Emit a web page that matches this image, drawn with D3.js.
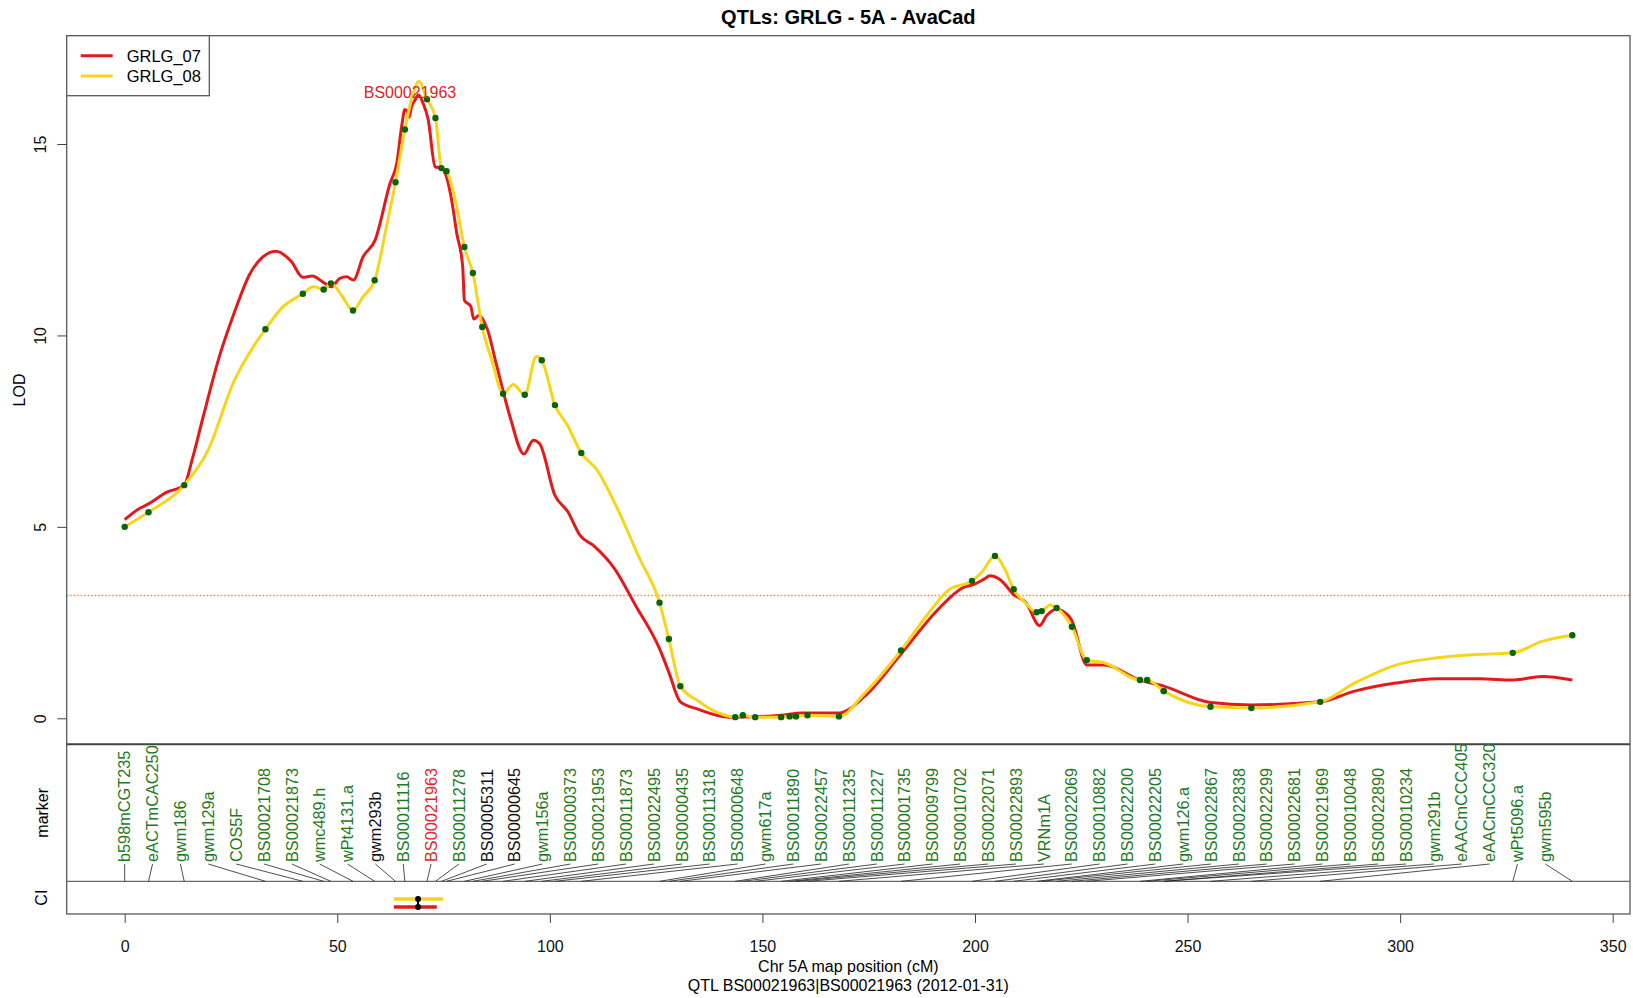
<!DOCTYPE html>
<html>
<head>
<meta charset="utf-8">
<script src="https://cdn.jsdelivr.net/npm/d3@7"></script>
<style>
  body { margin: 0; background: #fff; }
  #graphicContainer { width: 1633px; height: 998px; }
  text { font-family: "Liberation Sans", Arial, Helvetica, sans-serif; }
</style>
</head>
<body>
<div id="graphicContainer"></div>
<script>

// chart values

var title = "QTLs: GRLG - 5A - AvaCad";
var xLabel = "Chr 5A map position (cM)";
var subLabel = "QTL BS00021963|BS00021963 (2012-01-31)";
var seriesNames = ["GRLG_07", "GRLG_08"];
var xTicks = [0, 50, 100, 150, 200, 250, 300, 350];
var yTicks = [0, 5, 10, 15];
var threshold = 3.21;

var markerNames = ["b598mCGT235", "eACTmCAC250", "gwm186", "gwm129a", "COS5F", "BS00021708",
	"BS00021873", "wmc489.h", "wPt4131.a", "gwm293b", "BS00011116", "BS00021963", "BS00011278",
	"BS00005311", "BS00000645", "gwm156a", "BS00000373", "BS00021953", "BS00011873", "BS00022495",
	"BS00000435", "BS00011318", "BS00000648", "gwm617a", "BS00011890", "BS00022457", "BS00011235",
	"BS00011227", "BS00001735", "BS00009799", "BS00010702", "BS00022071", "BS00022893", "VRNm1A",
	"BS00022069", "BS00010882", "BS00022200", "BS00022205", "gwm126.a", "BS00022867", "BS00022838",
	"BS00022299", "BS00022681", "BS00021969", "BS00010048", "BS00022890", "BS00010234", "gwm291b",
	"eAACmCCC405", "eAACmCCC320", "wPt5096.a", "gwm595b"];

var markerPos = [0, 5.6, 14, 33.1, 41.9, 46.8, 48.5, 53.7, 58.8, 63.7, 65.9, 71.1, 73.1,
	74.5, 75.7, 79.9, 81.9, 84.1, 89, 94.1, 98.1, 101.2, 107.4, 125.8, 128, 130.7, 143.6,
	145.4, 148.3, 154.4, 156.4, 157.9, 160.6, 168, 182.6, 199.3, 204.7, 209.1, 214.5, 215.7, 219.2,
	222.8, 226.3, 238.8, 240.5, 244.4, 244.4, 255.4, 265, 281.2, 326.5, 340.5];

// GRLG_08 LOD at each marker (green dots)
var markerLod = [5.0, 5.38, 6.09, 10.16, 11.09, 11.2, 11.36, 10.65, 11.44, 14.0, 15.38, 16.17, 15.68,
	14.37, 14.29, 12.31, 11.63, 10.22, 8.48, 8.45, 9.35, 8.18, 6.93, 3.02, 2.07, 0.84, 0.03,
	0.08, 0.03, 0.03, 0.05, 0.05, 0.08, 0.05, 1.77, 3.59, 4.24, 3.37, 2.77, 2.8, 2.88,
	2.39, 1.52, 1.0, 1.0, 0.71, 0.71, 0.3, 0.27, 0.43, 1.71, 2.17];

var blackMarkers = ["gwm293b", "BS00005311", "BS00000645"];
var peakMarker = "BS00021963";
var peakLabel = {pos: 67.1, lod: 16.35};

var grlg07 = [[0,5.19],[3,5.45],[5.6,5.6],[9.8,5.9],[14,6.09],[15.9,6.77],[18.4,7.85],[22,9.35],
	[25.7,10.57],[29.4,11.6],[32.5,12.05],[35.5,12.2],[39.2,11.93],[41.9,11.52],[44.1,11.55],
	[46.8,11.38],[48.6,11.27],[50.6,11.49],[52.2,11.53],[53.8,11.45],[56.1,12.06],[58.9,12.49],
	[62.4,13.97],[64,14.5],[65.2,15.5],[65.9,15.9],[66.5,15.85],[66.9,15.7],[67.4,15.95],
	[68.3,16.15],[69.1,16.28],[70.2,16.06],[71.4,15.63],[73,14.41],[74.6,14.36],[75.7,14.14],
	[76.9,13.54],[78.1,12.67],[79.5,11.8],[79.9,10.92],[81.4,10.76],[82.1,10.43],[83.3,10.52],
	[85.3,10.16],[87.5,9.21],[90.7,7.85],[93.9,6.9],[96.1,7.26],[97.6,7.17],[101.2,5.82],
	[104.2,5.4],[107.1,4.78],[110.3,4.51],[115.2,3.91],[120.1,2.96],[125.8,1.82],[128,1.2],
	[130.7,0.43],[134.8,0.24],[142.2,0.03],[148,0.04],[154.4,0.08],[159.3,0.14],[168,0.14],
	[174,0.57],[182.6,1.68],[191.2,2.83],[197.3,3.42],[199.8,3.5],[202.2,3.64],[203.5,3.72],
	[206,3.61],[209.1,3.23],[212,3.02],[215.2,2.42],[216.9,2.69],[219.2,2.85],[221.9,2.69],
	[222.8,2.55],[226.3,1.39],[230.4,1.39],[238.8,1.0],[244.4,0.84],[255.4,0.41],[265,0.35],
	[281.2,0.43],[289.3,0.71],[299,0.92],[308.9,1.03],[318.7,1.03],[326.5,1.0],[333.4,1.09],
	[340.5,1.0]];

var grlg08 = [[0,5.0],[5.6,5.38],[14,6.09],[19.6,7.0],[25.7,8.8],[30.6,9.76],[33.1,10.16],
	[36.8,10.7],[41.9,11.09],[44.4,11.27],[46.8,11.2],[48.5,11.36],[51,11.05],[53.7,10.65],
	[56,11.0],[58.8,11.44],[61.5,12.8],[63.7,14.0],[65.9,15.38],[67.8,16.3],[69.2,16.63],
	[71.1,16.17],[73.1,15.68],[74.5,14.37],[75.7,14.29],[78,13.4],[79.9,12.31],[81.9,11.63],
	[84.1,10.22],[86.5,9.3],[89,8.48],[91.4,8.72],[94.1,8.45],[96.8,9.45],[98.1,9.35],
	[101.2,8.18],[104.2,7.64],[107.4,6.93],[111,6.5],[116,5.45],[121,4.2],[125.8,3.02],
	[128,2.07],[130.7,0.84],[134.8,0.46],[139.7,0.14],[143.6,0.03],[145.4,0.08],[148.3,0.03],
	[154.4,0.03],[156.4,0.05],[157.9,0.05],[160.6,0.08],[168,0.05],[174,0.65],[182.6,1.77],
	[188.7,2.69],[193.7,3.34],[199.3,3.59],[201.5,3.8],[204.7,4.24],[207,3.9],[209.1,3.37],
	[212,3.0],[214.5,2.77],[215.7,2.8],[217.7,2.96],[219.2,2.88],[222.8,2.39],[226.3,1.52],
	[230.4,1.45],[238.8,1.0],[240.5,1.0],[244.4,0.71],[255.4,0.3],[265,0.27],[281.2,0.43],
	[289.3,0.92],[299,1.39],[308.9,1.58],[317,1.66],[326.5,1.71],[333.4,2.01],[340.5,2.17]];

// confidence intervals: [low, peak, high]
var ci07 = [63.3, 69, 73.4];
var ci08 = [63.3, 69, 74.9];

var colours = {"GRLG_07": "#e31a1c", "GRLG_08": "#f7d51d"};

function draw_chart() {

	var width = 1633, height = 998;
	// panel edges
	var box = {left: 66.7, right: 1630, top: 35.7, lodBottom: 744.3, markerBottom: 881.3, ciBottom: 914};

	d3.select("#graphicContainer svg").remove();

	var svg = d3.select("#graphicContainer").append("svg")
		.attr("width", width)
		.attr("height", height);

	var x = d3.scaleLinear()
		.domain([0, 350])
		.range([124.7, 1612.7]);

	var y = d3.scaleLinear()
		.domain([0, 15])
		.range([718.3, 144]);

	// title
	svg.append("text")
		.attr("x", (box.left + box.right) / 2)
		.attr("y", 17)
		.attr("dy", "0.35em")
		.attr("text-anchor", "middle")
		.attr("font-weight", "bold")
		.attr("font-size", 20)
		.text(title);

	// threshold
	svg.append("line")
		.attr("x1", box.left).attr("x2", box.right)
		.attr("y1", y(threshold)).attr("y2", y(threshold))
		.attr("stroke", "#ff8c1a")
		.attr("stroke-width", 1.5)
		.attr("stroke-dasharray", "1.5,2");

	// LOD curves
	var line = d3.line()
		.x(d => x(d[0]))
		.y(d => y(d[1]))
		.curve(d3.curveMonotoneX);

	svg.append("path")
		.datum(grlg07)
		.attr("d", line)
		.attr("fill", "none")
		.attr("stroke", colours["GRLG_07"])
		.attr("stroke-width", 3);

	svg.append("path")
		.datum(grlg08)
		.attr("d", line)
		.attr("fill", "none")
		.attr("stroke", colours["GRLG_08"])
		.attr("stroke-width", 3);

	// marker dots
	svg.append("g")
		.selectAll("circle")
		.data(markerPos)
		.enter()
		.append("circle")
		.attr("cx", d => x(d))
		.attr("cy", (d, i) => y(markerLod[i]))
		.attr("r", 3.2)
		.attr("fill", "#0a640a");

	// peak label
	svg.append("text")
		.attr("x", x(peakLabel.pos))
		.attr("y", y(peakLabel.lod))
		.attr("dy", "0.35em")
		.attr("text-anchor", "middle")
		.attr("font-size", 16)
		.attr("fill", "#dc2626")
		.text(peakMarker);

	// panel boxes
	svg.append("rect")
		.attr("x", box.left).attr("y", box.top)
		.attr("width", box.right - box.left)
		.attr("height", box.ciBottom - box.top)
		.attr("fill", "none")
		.attr("stroke", "#5a5a5a")
		.attr("stroke-width", 1.3);

	svg.append("line")
		.attr("x1", box.left).attr("x2", box.right)
		.attr("y1", box.lodBottom).attr("y2", box.lodBottom)
		.attr("stroke", "#444")
		.attr("stroke-width", 2);

	svg.append("line")
		.attr("x1", box.left).attr("x2", box.right)
		.attr("y1", box.markerBottom).attr("y2", box.markerBottom)
		.attr("stroke", "#6a6a6a")
		.attr("stroke-width", 1.2);

	// marker labels spread evenly, joined to map positions
	var labelX = d3.scaleLinear()
		.domain([0, markerNames.length - 1])
		.range([x(markerPos[0]), x(markerPos[markerPos.length - 1]) - 27]);

	var labelBase = 862;

	svg.append("g")
		.selectAll("line")
		.data(markerNames)
		.enter()
		.append("line")
		.attr("x1", (d, i) => labelX(i))
		.attr("y1", labelBase + 2)
		.attr("x2", (d, i) => x(markerPos[i]))
		.attr("y2", box.markerBottom)
		.attr("stroke", "#222")
		.attr("stroke-width", 0.8);

	svg.append("g")
		.selectAll("text")
		.data(markerNames)
		.enter()
		.append("text")
		.attr("transform", (d, i) => `translate(${labelX(i)},${labelBase}) rotate(-90)`)
		.attr("dy", "0.35em")
		.attr("font-size", 16.3)
		.attr("fill", d => d == peakMarker ? "#e3262a" : (blackMarkers.indexOf(d) >= 0 ? "#111" : "#1f7a1f"))
		.text(d => d);

	// CI bars
	var ciRows = [{ci: ci08, key: "GRLG_08", yy: 899}, {ci: ci07, key: "GRLG_07", yy: 907}];

	svg.append("g")
		.selectAll("line")
		.data(ciRows)
		.enter()
		.append("line")
		.attr("x1", d => x(d.ci[0]))
		.attr("x2", d => x(d.ci[2]))
		.attr("y1", d => d.yy)
		.attr("y2", d => d.yy)
		.attr("stroke", d => colours[d.key])
		.attr("stroke-width", 3.5);

	svg.append("line")
		.attr("x1", x(ci08[1])).attr("x2", x(ci07[1]))
		.attr("y1", 899).attr("y2", 907)
		.attr("stroke", "#000")
		.attr("stroke-width", 2);

	svg.append("g")
		.selectAll("circle")
		.data(ciRows)
		.enter()
		.append("circle")
		.attr("cx", d => x(d.ci[1]))
		.attr("cy", d => d.yy)
		.attr("r", 3)
		.attr("fill", "#000");

	// legend
	svg.append("rect")
		.attr("x", box.left).attr("y", box.top)
		.attr("width", 209.3 - box.left)
		.attr("height", 95.7 - box.top)
		.attr("fill", "#fff")
		.attr("stroke", "#5a5a5a")
		.attr("stroke-width", 1.3);

	var leg = svg.append("g")
		.selectAll("g")
		.data(seriesNames)
		.enter()
		.append("g")
		.attr("transform", (d, i) => `translate(0,${55.7 + i * 20.3})`);

	leg.append("line")
		.attr("x1", 80.7).attr("x2", 112.7)
		.attr("stroke", d => colours[d])
		.attr("stroke-width", 3);

	leg.append("text")
		.attr("x", 126.7)
		.attr("dy", "0.36em")
		.attr("font-size", 16.5)
		.text(d => d);

	// x axis
	var xAxis = svg.append("g")
		.attr("transform", `translate(0,${box.ciBottom})`)
		.call(d3.axisBottom(x).tickValues(xTicks).tickSize(9).tickPadding(18).tickSizeOuter(0));
	xAxis.select(".domain").remove();
	xAxis.selectAll("line").attr("stroke", "#444");
	xAxis.selectAll("text").attr("font-size", 16).attr("fill", "#111")
		.attr("font-family", "\"Liberation Sans\", Arial, sans-serif");

	// y axis with rotated labels
	var yAxis = svg.append("g")
		.attr("transform", `translate(${box.left},0)`)
		.call(d3.axisLeft(y).tickValues(yTicks).tickSize(9.4).tickFormat(d3.format("d")));
	yAxis.select(".domain").remove();
	yAxis.selectAll("line").attr("stroke", "#444");
	yAxis.selectAll("text")
		.attr("x", null).attr("dy", null)
		.attr("text-anchor", "middle")
		.attr("dominant-baseline", "central")
		.attr("transform", "translate(-26,0) rotate(-90)")
		.attr("font-size", 16).attr("fill", "#111")
		.attr("font-family", "\"Liberation Sans\", Arial, sans-serif");

	// axis titles
	svg.append("text")
		.attr("x", (box.left + box.right) / 2)
		.attr("y", 966.5)
		.attr("dy", "0.35em")
		.attr("text-anchor", "middle")
		.attr("font-size", 16)
		.text(xLabel);

	svg.append("text")
		.attr("x", (box.left + box.right) / 2)
		.attr("y", 985)
		.attr("dy", "0.35em")
		.attr("text-anchor", "middle")
		.attr("font-size", 16)
		.text(subLabel);

	var sideLabels = [
		{t: "LOD", x: 19, y: (box.top + box.lodBottom) / 2},
		{t: "marker", x: 42, y: (box.lodBottom + box.markerBottom) / 2},
		{t: "CI", x: 41, y: (box.markerBottom + box.ciBottom) / 2}
	];

	svg.append("g")
		.selectAll("text")
		.data(sideLabels)
		.enter()
		.append("text")
		.attr("transform", d => `translate(${d.x},${d.y}) rotate(-90)`)
		.attr("text-anchor", "middle")
		.attr("dominant-baseline", "central")
		.attr("font-size", 16)
		.text(d => d.t);
}

draw_chart();
</script>
</body>
</html>
